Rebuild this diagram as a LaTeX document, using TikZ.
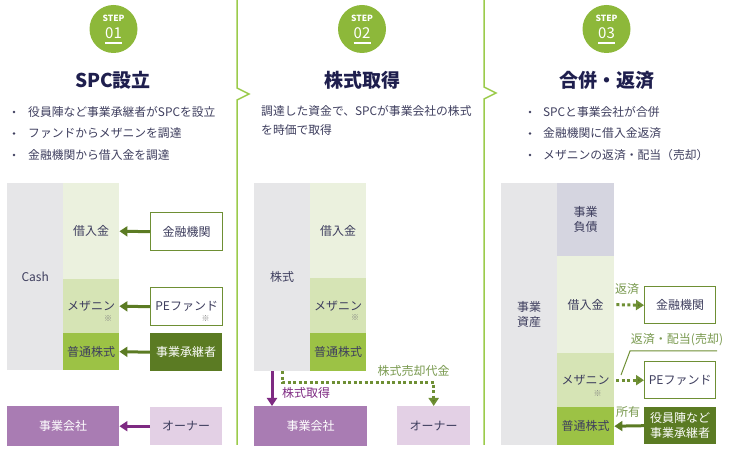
\documentclass[tikz,border=0pt]{standalone}
\usepackage{fontspec}
\setmainfont{Noto Sans CJK JP}
\usetikzlibrary{arrows.meta,calc}
\definecolor{sepg}{HTML}{9BCB4B}
\definecolor{badge}{HTML}{8DB83A}
\definecolor{ttl}{HTML}{1F1F4E}
\definecolor{txt}{HTML}{3E3E5E}
\definecolor{grayb}{HTML}{E6E6E8}
\definecolor{lgA}{HTML}{EBF1DE}
\definecolor{lgB}{HTML}{D6E4B5}
\definecolor{lgC}{HTML}{9CC245}
\definecolor{dg}{HTML}{5B7B23}
\definecolor{bord}{HTML}{6E8F34}
\definecolor{pur}{HTML}{A97CB3}
\definecolor{lpur}{HTML}{E3D0E5}
\definecolor{parr}{HTML}{7E2A82}
\definecolor{lav}{HTML}{D5D5E0}
\definecolor{lblg}{HTML}{7A9A50}
\begin{document}
\begin{tikzpicture}[x=1pt,y=-1pt,
  box/.style={anchor=north west, inner sep=0pt, align=center, text=txt,
    font=\fontsize{12}{15}\selectfont},
  wbox/.style={box, draw=bord, line width=1.4pt, fill=white},
  sepline/.style={draw=sepg, line width=1.5pt, line join=miter},
  badgec/.style={circle, fill=badge, minimum size=48pt, inner sep=0pt},
  ttlnode/.style={text=ttl, font=\bfseries\fontsize{19}{22}\selectfont, inner sep=0pt},
  btxt/.style={anchor=west, text=txt, font=\fontsize{11.8}{15}\selectfont, inner sep=0pt},
  note/.style={text=gray, font=\fontsize{8}{9}\selectfont, inner sep=0pt},
  garrow/.style={draw=dg, line width=3pt, -{Triangle[length=8pt,width=10pt]}},
  parrow/.style={draw=parr, line width=3pt, -{Triangle[length=8pt,width=10pt]}},
  darrow/.style={draw=bord, line width=3pt, dash pattern=on 3pt off 2.5pt,
    -{Triangle[length=8pt,width=10pt,fill=dg]}},
  lbl/.style={text=lblg, font=\fontsize{12}{14}\selectfont, inner sep=0pt},
]
\useasboundingbox (0,0) rectangle (737,454);

% separators
\draw[sepline] (237,0) -- (237,88) -- (249,94) -- (237,100) -- (237,445);
\draw[sepline] (484,0) -- (484,87) -- (496,93) -- (484,99) -- (484,445);

% badges
\foreach \cx/\n/\nm in {113.5/01/ba, 362/02/bb, 606.5/03/bc}{
  \node[badgec] (\nm) at (\cx,29) {};
  \node[text=white, font=\bfseries\fontsize{8.5}{9}\selectfont, inner sep=0pt] at (\cx,18) {STEP};
  \node[text=white, font=\fontsize{15}{16}\selectfont, inner sep=0pt] at (\cx,33) {\n};
  \draw[white, line width=1.4pt] (\cx-8.5,43) -- (\cx+8.5,43);
}

% titles
\node[ttlnode] (t1) at (113,80) {SPC設立};
\node[ttlnode] (t2) at (362,80) {株式取得};
\node[ttlnode] (t3) at (607,80) {合併・返済};

% step 1 bullets
\foreach \yy in {112,133.5,155}{ \fill[txt] (14,\yy) circle (1.4pt); }
\node[btxt] (s1a) at (28,112) {役員陣など事業承継者がSPCを設立};
\node[btxt] (s1b) at (28,133.5) {ファンドからメザニンを調達};
\node[btxt] (s1c) at (28,155) {金融機関から借入金を調達};

% step 2 text
\node[btxt] (s2a) at (261,111) {調達した資金で、SPCが事業会社の株式};
\node[btxt] (s2b) at (261,130.5) {を時価で取得};

% step 3 bullets
\foreach \yy in {112,133.5,155}{ \fill[txt] (530,\yy) circle (1.4pt); }
\node[btxt] (s3a) at (543,112) {SPCと事業会社が合併};
\node[btxt] (s3b) at (543,133.5) {金融機関に借入金返済};
\node[btxt] (s3c) at (543,155) {メザニンの返済・配当（売却）};

% ---------- step 1 diagram ----------
\node[box, fill=grayb, minimum width=56pt, minimum height=187pt] (cash1) at (7,183) {Cash};
\node[box, fill=lgA, minimum width=56pt, minimum height=96pt] (kari1) at (63,183) {借入金};
\node[box, fill=lgB, minimum width=56pt, minimum height=54pt] (mezz1) at (63,279) {メザニン};
\node[note] at ($(mezz1.center)+(17,12)$) {※};
\node[box, fill=lgC, minimum width=56pt, minimum height=37pt] (fut1) at (63,333) {普通株式};
\node[wbox, minimum width=72pt, minimum height=38pt] (kin1) at (150,212) {金融機関};
\node[wbox, minimum width=72pt, minimum height=38pt] (pe1) at (150,287) {PEファンド};
\node[note] at ($(pe1.center)+(19,12)$) {※};
\node[box, fill=dg, text=white, minimum width=72pt, minimum height=38pt] (suc1) at (150,333) {事業承継者};
\node[box, fill=pur, text=white, minimum width=112pt, minimum height=40pt] (jig1) at (7,406) {事業会社};
\node[box, fill=lpur, minimum width=72pt, minimum height=38pt] (own1) at (150,407) {オーナー};
\draw[garrow] (kin1.west) -- (kari1.east);
\draw[garrow] (pe1.west) -- (mezz1.east);
\draw[garrow] (suc1.west) -- (fut1.east);
\draw[parrow] (own1.west) -- (jig1.east);

% ---------- step 2 diagram ----------
\node[box, fill=grayb, minimum width=56pt, minimum height=188pt] (kabu2) at (254,183) {株式};
\node[box, fill=lgA, minimum width=56pt, minimum height=95pt] (kari2) at (310,183) {借入金};
\node[box, fill=lgB, minimum width=56pt, minimum height=55pt] (mezz2) at (310,278) {メザニン};
\node[note] at ($(mezz2.center)+(17,12)$) {※};
\node[box, fill=lgC, minimum width=56pt, minimum height=38pt] (fut2) at (310,333) {普通株式};
\node[box, fill=pur, text=white, minimum width=113pt, minimum height=40pt] (jig2) at (254,406) {事業会社};
\node[box, fill=lpur, minimum width=73pt, minimum height=39pt] (own2) at (397,406) {オーナー};
\draw[parrow] ($(kabu2.south west)+(18,0)$) -- ($(jig2.north west)+(18,0)$);
\draw[darrow] ($(kabu2.south west)+(28,0)$) -- ++(0,11) -| (own2.north);
\node[lbl, text=parr, anchor=west] (l21) at (282,393) {株式取得};
\node[lbl] (l22) at (413.5,371) {株式売却代金};

% ---------- step 3 diagram ----------
\node[box, fill=grayb, minimum width=56pt, minimum height=262pt] (ast3) at (501,183) {事業\\資産};
\node[box, fill=lav, minimum width=57pt, minimum height=73pt] (debt3) at (557,183) {事業\\負債};
\node[box, fill=lgA, minimum width=57pt, minimum height=97pt] (kari3) at (557,256) {借入金};
\node[box, fill=lgB, minimum width=57pt, minimum height=54pt] (mezz3) at (557,353) {メザニン};
\node[note] at ($(mezz3.center)+(12,13)$) {※};
\node[box, fill=lgC, minimum width=57pt, minimum height=38pt] (fut3) at (557,407) {普通株式};
\node[wbox, minimum width=71pt, minimum height=37pt] (kin3) at (644,286) {金融機関};
\node[wbox, minimum width=71pt, minimum height=37pt] (pe3) at (644,361) {PEファンド};
\node[box, fill=dg, text=white, minimum width=72pt, minimum height=37pt] (suc3) at (644,407) {役員陣など\\事業承継者};
\draw[darrow] ($(kari3.east)+(2,0)$) -- (kin3.west);
\draw[darrow] ($(mezz3.east)+(2,0)$) -- (pe3.west);
\draw[garrow] (suc3.west) -- (fut3.east);
\node[lbl] (l31) at (627,289) {返済};
\node[lbl] (l32) at (628,412) {所有};
\node[lbl] (l33) at (677,340) {返済・配当(売却)};
\coordinate (ld1) at (621,375);
\coordinate (ld2) at (630,351);
\coordinate (ld3) at (717,351);
\draw[bord, line width=1pt] (ld1) -- (ld2) -- (ld3);
\end{tikzpicture}
\end{document}
